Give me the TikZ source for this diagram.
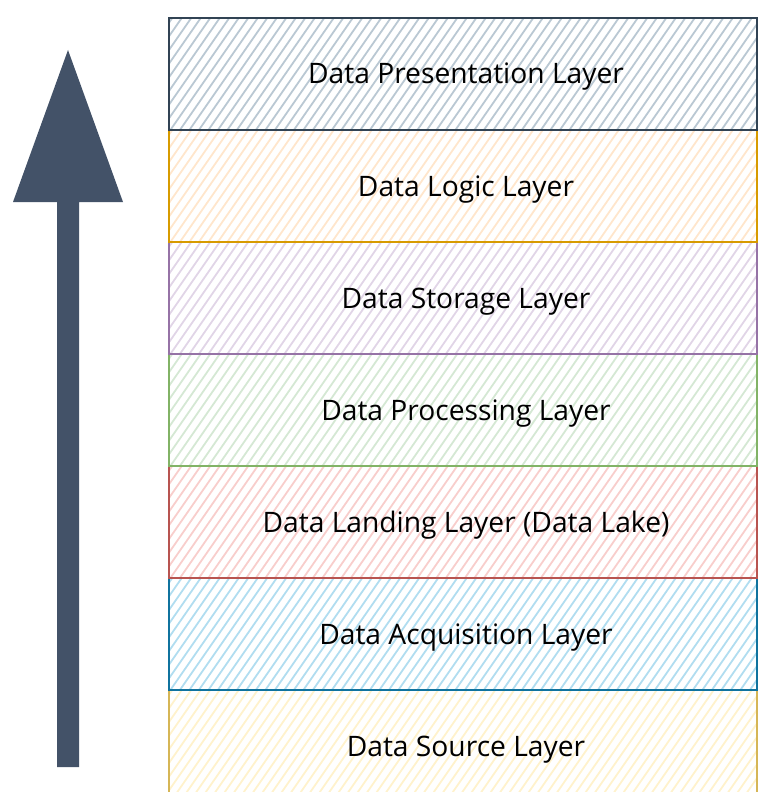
\documentclass[tikz,border=0pt]{standalone}
\usepackage{fontspec}
\setmainfont{Open Sans}
\definecolor{preS}{HTML}{314354}\definecolor{preF}{HTML}{BAC8D3}
\definecolor{logS}{HTML}{D79B00}\definecolor{logF}{HTML}{FFE6CC}
\definecolor{stoS}{HTML}{9673A6}\definecolor{stoF}{HTML}{E1D5E7}
\definecolor{proS}{HTML}{82B366}\definecolor{proF}{HTML}{D5E8D4}
\definecolor{lanS}{HTML}{B85450}\definecolor{lanF}{HTML}{F8CECC}
\definecolor{acqS}{HTML}{10739E}\definecolor{acqF}{HTML}{B1DDF0}
\definecolor{srcS}{HTML}{D6B656}\definecolor{srcF}{HTML}{FFF2CC}
\definecolor{arrowC}{HTML}{435268}
\tikzset{
  layer/.style={rectangle, minimum width=588pt, minimum height=112pt, inner sep=0pt,
    line width=1.4pt},
  lbl/.style={font=\fontsize{28.2}{31}\selectfont, text=black, inner sep=0pt, anchor=base},
}
\newcommand{\hatchbox}[5]{%
  \begin{scope}
    \clip (#1,#2) rectangle (#3,#4);
    \foreach \i in {-20,...,70}{
      \draw[#5, line width=1.8pt] (#1+\i*9.5,#4+2) -- ++(82,-118);
    }
  \end{scope}}
\begin{document}
\begin{tikzpicture}[x=1pt,y=-1pt]
\useasboundingbox (0,0) rectangle (758,792);
\clip (0,0) rectangle (758,792);
% hatching
\hatchbox{169}{18}{757}{130}{preF}
\hatchbox{169}{130}{757}{242}{logF}
\hatchbox{169}{242}{757}{354}{stoF}
\hatchbox{169}{354}{757}{466}{proF}
\hatchbox{169}{466}{757}{578}{lanF}
\hatchbox{169}{578}{757}{690}{acqF}
\hatchbox{169}{690}{757}{802}{srcF}
% layers
\node[layer, draw=srcS] (src) at (463,746) {};
\node[layer, draw=acqS, line width=1.8pt] (acq) at (463,634) {};
\node[layer, draw=lanS, line width=1.8pt] (lan) at (463,522) {};
\node[layer, draw=proS] (pro) at (463,410) {};
\node[layer, draw=stoS] (sto) at (463,298) {};
\node[layer, draw=logS] (log) at (463,186) {};
\node[layer, draw=preS, line width=1.8pt] (pre) at (463,74) {};
% labels
\foreach \n/\t in {src/Data Source Layer, acq/Data Acquisition Layer,
  lan/Data Landing Layer (Data Lake), pro/Data Processing Layer,
  sto/Data Storage Layer, log/Data Logic Layer, pre/Data Presentation Layer}{
  \node[lbl] (\n-t) at ([xshift=3pt,yshift=-10pt]\n.center) {\t};
}
% arrow
\coordinate (tip) at (68,50);
\fill[arrowC] (tip) -- (123,202) -- (79,202) -- (79,767) -- (57,767) -- (57,202) -- (13,202) -- cycle;
\end{tikzpicture}
\end{document}
